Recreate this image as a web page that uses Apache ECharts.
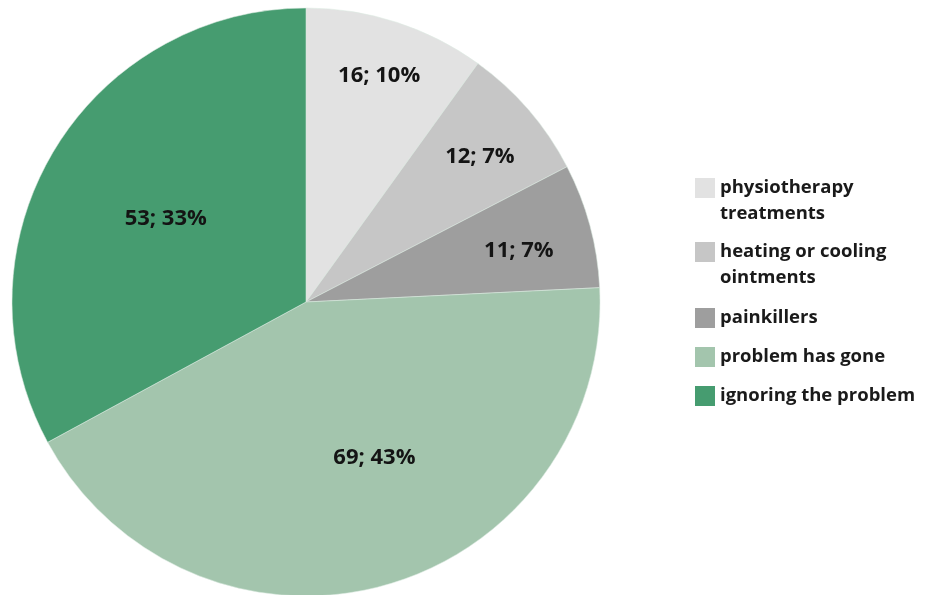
<!DOCTYPE html>
<html>
<head>
<meta charset="utf-8">
<script src="https://cdn.jsdelivr.net/npm/echarts@6/dist/echarts.min.js"></script>
<style>
  html, body { margin: 0; padding: 0; background: #ffffff; }
  #chart { width: 941px; height: 595px; }
</style>
</head>
<body>
<div id="chart"></div>
<script>
// Responses: how people deal with the problem
const categories = [
  'physiotherapy treatments',
  'heating or cooling ointments',
  'painkillers',
  'problem has gone',
  'ignoring the problem'
];
const counts = [16, 12, 11, 69, 53];
const legendLines = [
  ['physiotherapy', 'treatments'],
  ['heating or cooling', 'ointments'],
  ['painkillers'],
  ['problem has gone'],
  ['ignoring the problem']
];

const colors = ['#e2e2e2', '#c6c6c6', '#9e9e9e', '#a3c5ad', '#469c70'];
const FONT = '"Open Sans", sans-serif';

const CX = 306, CY = 302, R = 294;
// label placement inside each slice: [fraction of radius, angle shift in degrees]
const labelPlace = [[0.81, 0], [0.77, 1], [0.745, 1.5], [0.58, -8], [0.555, 0]];
const legendTops = [149, 213, 305, 344, 383];

const total = counts.reduce((a, b) => a + b, 0);
const midAngles = [];
let cum = 0;
counts.forEach(v => { midAngles.push((cum + v / 2) / total * 360); cum += v; });

const chart = echarts.init(document.getElementById('chart'), null, { renderer: 'canvas' });

// one legend block per entry so the swatch sits beside the first text line
const legends = categories.map((name, i) => ({
  data: [name],
  left: 695,
  top: legendTops[i],
  padding: 0,
  orient: 'vertical',
  itemWidth: 20,
  itemHeight: 20,
  icon: 'rect',
  selectedMode: false,
  itemStyle: { borderWidth: 0 },
  formatter: () => (legendLines[i].length > 1 ? ' \n' : '') + legendLines[i].join('\n'),
  textStyle: { fontFamily: FONT, fontWeight: 'bold', fontSize: 18.5, lineHeight: 26, color: '#1a1a1a' }
}));

chart.setOption({
  animation: false,
  color: colors,
  legend: legends,
  series: [{
    type: 'pie',
    center: [CX, CY],
    radius: [0, R],
    startAngle: 90,
    clockwise: true,
    percentPrecision: 0,
    itemStyle: { borderColor: 'rgba(220,235,225,0.9)', borderWidth: 0.6 },
    label: {
      show: true,
      position: 'inside',
      formatter: '{c}; {d}%',
      fontFamily: FONT,
      fontWeight: 'bold',
      fontSize: 22,
      color: '#141414'
    },
    labelLayout: params => {
      const i = params.dataIndex;
      const a = (midAngles[i] + labelPlace[i][1]) * Math.PI / 180;
      const d = labelPlace[i][0] * R;
      return { x: CX + d * Math.sin(a), y: CY - d * Math.cos(a) };
    },
    emphasis: { disabled: true },
    data: categories.map((name, i) => ({ name, value: counts[i] }))
  }]
});
</script>
</body>
</html>
